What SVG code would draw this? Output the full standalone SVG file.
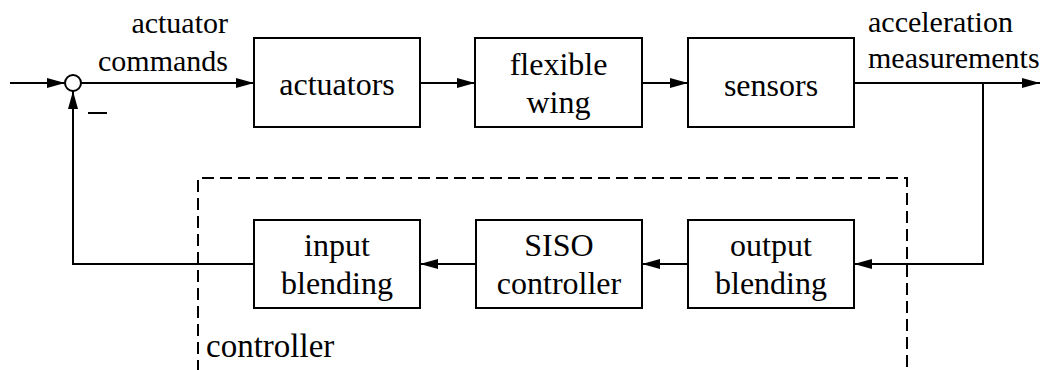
<svg xmlns="http://www.w3.org/2000/svg" width="1040" height="370" viewBox="0 0 1040 370">
  <style>
    .box { fill: #fff; stroke: #000; stroke-width: 2; }
    .wire { fill: none; stroke: #000; stroke-width: 2; }
    .arrow { marker-end: url(#head); }
    text { fill: #000; font-family: 'Liberation Serif', 'Times New Roman', Tinos, 'Nimbus Roman', 'DejaVu Serif', 'Noto Serif', serif; }
    .blk { font-size: 32px; text-anchor: middle; }
    .sig { font-size: 30px; }
  </style>
  <defs>
    <marker id="head" viewBox="0 0 18 10" refX="18" refY="5" markerWidth="18" markerHeight="10" markerUnits="userSpaceOnUse" orient="auto">
      <path d="M0,0 L18,5 L0,10 z" fill="#000"/>
    </marker>
  </defs>
  <rect width="1040" height="370" fill="#fff"/>

  <!-- controller boundary (dashed, open at the bottom) -->
  <g id="controller-frame">
    <path d="M198,372 V178 H907 V372" fill="none" stroke="#000" stroke-width="2" stroke-dasharray="12 6"/>
    <text x="206" y="357" font-size="33">controller</text>
  </g>

  <!-- signal wiring -->
  <g id="connectors">
    <line class="wire arrow" x1="10" y1="83" x2="65" y2="83"/>
    <line class="wire arrow" x1="81" y1="83" x2="254" y2="83"/>
    <line class="wire arrow" x1="420" y1="83" x2="475" y2="83"/>
    <line class="wire arrow" x1="642" y1="83" x2="688" y2="83"/>
    <line class="wire arrow" x1="854" y1="83" x2="1040" y2="83"/>
    <polyline class="wire arrow" points="983,83 983,264 854,264"/>
    <line class="wire arrow" x1="688" y1="264" x2="642" y2="264"/>
    <line class="wire arrow" x1="476" y1="264" x2="420" y2="264"/>
    <polyline class="wire arrow" points="254,264 73,264 73,91"/>
    <line x1="88" y1="113" x2="107" y2="113" stroke="#000" stroke-width="2"/>
    <text class="sig" x="228" y="33" text-anchor="end">actuator</text>
    <text class="sig" x="228" y="71" text-anchor="end">commands</text>
    <text class="sig" x="868" y="32">acceleration</text>
    <text class="sig" x="868" y="68">measurements</text>
  </g>

  <g id="sum">
    <circle cx="73" cy="83" r="8" fill="#fff" stroke="#000" stroke-width="2"/>
  </g>

  <g id="actuators">
    <rect class="box" x="254" y="38" width="166" height="89"/>
    <text class="blk" x="337" y="95">actuators</text>
  </g>

  <g id="flexible-wing">
    <rect class="box" x="475" y="38" width="167" height="89"/>
    <text class="blk" x="558.5" y="75">flexible</text>
    <text class="blk" x="558.5" y="113">wing</text>
  </g>

  <g id="sensors">
    <rect class="box" x="688" y="38" width="166" height="89"/>
    <text class="blk" x="771" y="96">sensors</text>
  </g>

  <g id="input-blending">
    <rect class="box" x="254" y="220" width="166" height="88"/>
    <text class="blk" x="337" y="256">input</text>
    <text class="blk" x="337" y="294">blending</text>
  </g>

  <g id="siso-controller">
    <rect class="box" x="476" y="220" width="166" height="88"/>
    <text class="blk" x="559" y="256">SISO</text>
    <text class="blk" x="559" y="294">controller</text>
  </g>

  <g id="output-blending">
    <rect class="box" x="688" y="220" width="166" height="88"/>
    <text class="blk" x="771" y="256">output</text>
    <text class="blk" x="771" y="294">blending</text>
  </g>
</svg>
